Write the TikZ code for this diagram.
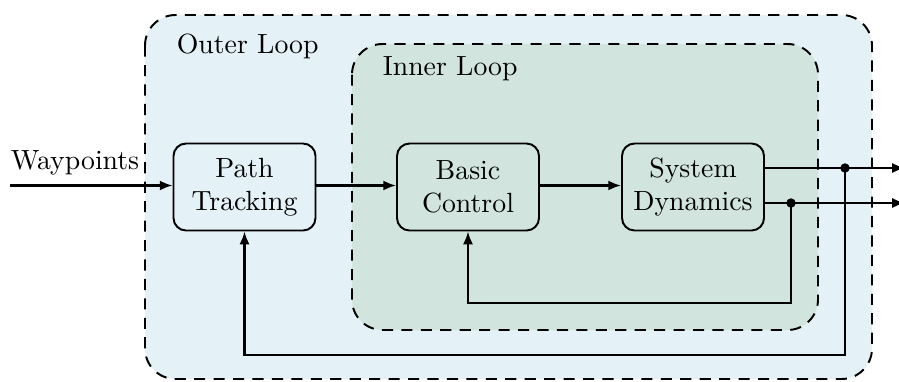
\documentclass[tikz,border=0pt]{standalone}
\usetikzlibrary{arrows.meta}
\definecolor{outerfill}{RGB}{228,241,246}
\definecolor{innerfill}{RGB}{209,229,222}
\begin{document}
\begin{tikzpicture}[x=0.36pt,y=-0.36pt,
  loopbox/.style={draw, dashed, dash pattern=on 4pt off 3pt, line width=0.7pt, rounded corners=11pt},
  block/.style={draw, line width=0.7pt, rounded corners=4.5pt, minimum width=142*0.36pt, minimum height=87*0.36pt, align=center},
  sig/.style={line width=0.75pt},
  arr/.style={sig, -{Latex[length=4.6pt,width=3.6pt]}},
  dot/.style={circle, fill, inner sep=0pt, minimum size=3.4pt}]
\useasboundingbox (0,0) rectangle (899,381);
% loop regions
\draw[loopbox, fill=outerfill] (145,15) rectangle (872,379);
\draw[loopbox, fill=innerfill] (352,44) rectangle (818,330);
\node[anchor=west] (outerlbl) at (167,46) {Outer Loop};
\node[anchor=west] (innerlbl) at (373,69) {Inner Loop};
% blocks
\node[block] (path) at (244.5,187) {Path\\Tracking};
\node[block] (basic) at (468,187) {Basic\\Control};
\node[block] (sys) at (693,187) {System\\Dynamics};
% signal points
\coordinate (win) at (10,185.5);
\coordinate (out1) at (905,168);
\coordinate (out2) at (905,203);
\node[dot] (d1) at (845,168) {};
\node[dot] (d2) at (791,203) {};
\coordinate (fb1) at (845,355);
\coordinate (fb2) at (791,303);
% forward path
\draw[arr] (win) -- node[above, pos=0.4] {Waypoints} (win -| path.west);
\draw[arr] (path.east |- win) -- (basic.west |- win);
\draw[arr] (basic.east |- win) -- (sys.west |- win);
\draw[arr] (sys.east |- d1) -- (out1);
\draw[arr] (sys.east |- d2) -- (out2);
% feedback paths
\draw[arr] (d1.center) -- (fb1) -| (path.south);
\draw[arr] (d2.center) -- (fb2) -| (basic.south);
\end{tikzpicture}
\end{document}
